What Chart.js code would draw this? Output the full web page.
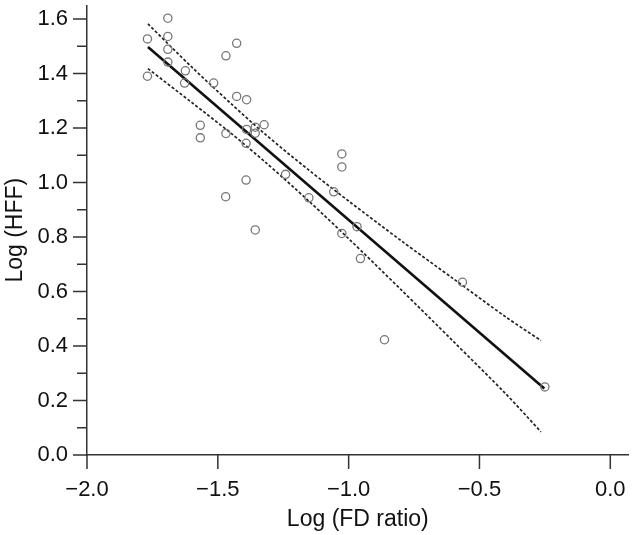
<!DOCTYPE html>
<html>
<head>
<meta charset="utf-8">
<script src="https://cdn.jsdelivr.net/npm/chart.js@4.4.1/dist/chart.umd.min.js"></script>
<style>
html,body{margin:0;padding:0;background:#fff;}
canvas{display:block;}
</style>
</head>
<body>
<canvas id="c" width="634" height="535"></canvas>
<script>
// Observations: Log (FD ratio) vs Log (HFF)
const fdRatio = [-1.691, -1.769, -1.691, -1.691, -1.691, -1.769, -1.624, -1.627, -1.516, -1.469,
                 -1.428, -1.428, -1.390, -1.567, -1.567, -1.469, -1.390, -1.357, -1.323, -1.357,
                 -1.392, -1.392, -1.470, -1.357, -1.026, -1.026, -1.241, -1.057, -1.152, -0.968,
                 -1.026, -0.955, -0.565, -0.863, -0.250];
const hff = [1.603, 1.527, 1.536, 1.489, 1.442, 1.390, 1.410, 1.365, 1.365, 1.465,
             1.511, 1.316, 1.304, 1.210, 1.164, 1.180, 1.195, 1.203, 1.212, 1.181,
             1.144, 1.009, 0.948, 0.826, 1.105, 1.057, 1.030, 0.966, 0.944, 0.838,
             0.813, 0.721, 0.634, 0.423, 0.250];

// Regression line
const fitX = [-1.767, -0.252];
const fitY = [1.497, 0.244];

// Confidence band
const bandX  = [-1.767, -1.6, -1.45, -1.32, -1.15, -1.0, -0.8, -0.6, -0.4, -0.265];
const upperY = [1.582, 1.424, 1.290, 1.178, 1.044, 0.932, 0.787, 0.647, 0.507, 0.420];
const lowerY = [1.418, 1.294, 1.181, 1.076, 0.930, 0.794, 0.607, 0.417, 0.225, 0.085];

// Axis settings
const xTickValues = [-2.0, -1.5, -1.0, -0.5, 0.0];
const yTickValues = [0.0, 0.2, 0.4, 0.6, 0.8, 1.0, 1.2, 1.4, 1.6];
const xTitle = 'Log (FD ratio)';
const yTitle = 'Log (HFF)';

const pts = (xs, ys) => xs.map((x, i) => ({x: x, y: ys[i]}));
const isMajorY = v => yTickValues.some(t => Math.abs(t - v) < 1e-6);

const tickPlugin = {
  id: 'ticks',
  afterDraw(chart) {
    const ctx = chart.ctx;
    const xs = chart.scales.x, ys = chart.scales.y;
    const area = chart.chartArea;
    ctx.save();
    ctx.strokeStyle = '#333';
    ctx.lineWidth = 1.5;
    ctx.beginPath();
    xs.ticks.forEach(t => {
      const px = xs.getPixelForValue(t.value);
      ctx.moveTo(px, area.bottom);
      ctx.lineTo(px, area.bottom + 14);
    });
    ys.ticks.forEach(t => {
      const py = ys.getPixelForValue(t.value);
      const len = isMajorY(t.value) ? 14 : 10;
      ctx.moveTo(area.left, py);
      ctx.lineTo(area.left - len, py);
    });
    ctx.stroke();
    ctx.restore();
  }
};

const zeroPad = s => { s.paddingTop = 0; s.paddingBottom = 0; s.paddingLeft = 0; s.paddingRight = 0; };

const fontFam = '"Liberation Sans", Arial, Helvetica, sans-serif';

new Chart(document.getElementById('c'), {
  type: 'scatter',
  data: {
    datasets: [
      {
        data: pts(fdRatio, hff),
        pointStyle: 'circle',
        pointRadius: 4.1,
        pointBorderWidth: 1.3,
        pointBorderColor: '#777',
        pointBackgroundColor: 'rgba(0,0,0,0)',
        showLine: false
      },
      {
        data: pts(fitX, fitY),
        showLine: true,
        borderColor: '#111',
        borderWidth: 2.6,
        pointRadius: 0
      },
      {
        data: pts(bandX, upperY),
        showLine: true,
        borderColor: '#222',
        borderWidth: 1.7,
        borderDash: [3, 2],
        tension: 0.3,
        pointRadius: 0
      },
      {
        data: pts(bandX, lowerY),
        showLine: true,
        borderColor: '#222',
        borderWidth: 1.7,
        borderDash: [3, 2],
        tension: 0.3,
        pointRadius: 0
      }
    ]
  },
  options: {
    responsive: false,
    animation: false,
    events: [],
    layout: {padding: {left: 0, top: 4, right: 3, bottom: 0}},
    plugins: {legend: {display: false}, tooltip: {enabled: false}},
    scales: {
      x: {
        type: 'linear',
        min: -2.0,
        max: 0.07,
        afterFit: s => { s.height = 80; zeroPad(s); },
        afterBuildTicks: s => { s.ticks = xTickValues.map(v => ({value: v})); },
        grid: {display: false, drawTicks: false},
        border: {display: true, color: '#333', width: 1.5},
        ticks: {
          padding: 22,
          color: '#111',
          font: {family: fontFam, size: 22},
          callback: v => (v < 0 ? '\u2212' : '') + Math.abs(v).toFixed(1),
          maxRotation: 0,
          autoSkip: false
        },
        title: {
          display: true,
          text: xTitle,
          color: '#111',
          font: {family: fontFam, size: 23},
          padding: {top: 0, bottom: 2}
        }
      },
      y: {
        type: 'linear',
        min: 0,
        max: 1.65,
        afterFit: s => { s.width = 87; zeroPad(s); },
        afterBuildTicks: s => {
          const arr = [];
          for (let i = 0; i <= 16; i++) arr.push({value: i / 10});
          s.ticks = arr;
        },
        grid: {display: false, drawTicks: false},
        border: {display: true, color: '#333', width: 1.5},
        ticks: {
          padding: 19,
          color: '#111',
          font: {family: fontFam, size: 22},
          callback: v => isMajorY(v) ? v.toFixed(1) : '',
          autoSkip: false
        },
        title: {
          display: true,
          text: yTitle,
          color: '#111',
          font: {family: fontFam, size: 23},
          padding: {top: 2, bottom: 0}
        }
      }
    }
  },
  plugins: [tickPlugin]
});
</script>
</body>
</html>
